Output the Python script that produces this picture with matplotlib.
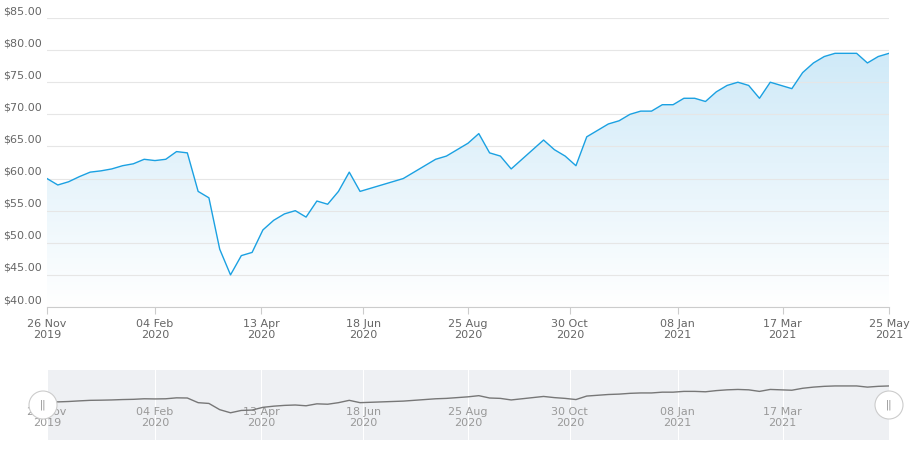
import numpy as np
import pandas as pd
import matplotlib.pyplot as plt
import matplotlib.dates as mdates
from matplotlib.patches import Polygon, Circle

# weekly closes, 26 Nov 2019 .. 25 May 2021
prices = [60.0, 59.0, 59.5, 60.3, 61.0, 61.2, 61.5, 62.0, 62.3, 63.0,
          62.8, 63.0, 64.2, 64.0, 58.0, 57.0, 49.0, 45.0, 48.0, 48.5,
          52.0, 53.5, 54.5, 55.0, 54.0, 56.5, 56.0, 58.0, 61.0, 58.0,
          58.5, 59.0, 59.5, 60.0, 61.0, 62.0, 63.0, 63.5, 64.5, 65.5,
          67.0, 64.0, 63.5, 61.5, 63.0, 64.5, 66.0, 64.5, 63.5, 62.0,
          66.5, 67.5, 68.5, 69.0, 70.0, 70.5, 70.5, 71.5, 71.5, 72.5,
          72.5, 72.0, 73.5, 74.5, 75.0, 74.5, 72.5, 75.0, 74.5, 74.0,
          76.5, 78.0, 79.0, 79.5, 79.5, 79.5, 78.0, 79.0, 79.5]
dates = pd.date_range('2019-11-26', periods=len(prices), freq='7D')
tick_dates = pd.to_datetime(['2019-11-26', '2020-02-04', '2020-04-13', '2020-06-18',
                             '2020-08-25', '2020-10-30', '2021-01-08', '2021-03-17',
                             '2021-05-25'])
tick_labels = [d.strftime('%d %b\n%Y') for d in tick_dates]
y_ticks = np.arange(40, 86, 5)

line_col = '#1ba1e2'
grey = '#666666'
x = mdates.date2num(dates)

fig = plt.figure(figsize=(9.13, 4.62), dpi=100)
W, H = 913, 462
ax = fig.add_axes([47 / W, 1 - 307 / H, 842 / W, 289 / H])

# gradient fill under the line
grad = np.linspace(0, 1, 256).reshape(-1, 1)
im = ax.imshow(grad, extent=[x[0], x[-1], 40, 85], aspect='auto', origin='lower',
               cmap=plt.matplotlib.colors.LinearSegmentedColormap.from_list(
                   'g', ['#ffffff', '#c9e7f7']), zorder=1)
poly = Polygon(np.column_stack([np.r_[x, x[-1], x[0]], np.r_[prices, 40, 40]]),
               transform=ax.transData, facecolor='none', edgecolor='none')
ax.add_patch(poly)
im.set_clip_path(poly)
ax.plot(x, prices, color=line_col, lw=1.0, zorder=3)

ax.set_xlim(x[0], x[-1])
ax.set_ylim(40, 85)
ax.set_yticks(y_ticks)
ax.set_yticklabels([])
for v in y_ticks:
    ax.text(-44 / 842, v + 0.3, f'${v:.2f}', transform=ax.get_yaxis_transform(),
            ha='left', va='bottom', color=grey, fontsize=8)
ax.set_xticks(mdates.date2num(tick_dates))
ax.set_xticklabels(tick_labels)
ax.grid(axis='y', color='#e6e6e6', lw=0.8)
for s in ['top', 'right', 'left']:
    ax.spines[s].set_visible(False)
ax.spines['bottom'].set_color('#cccccc')
ax.tick_params(axis='y', length=0)
ax.tick_params(axis='x', colors=grey, labelsize=8, length=5, color='#cccccc')

# navigator
nav = fig.add_axes([47 / W, 1 - 440 / H, 842 / W, 70 / H])
nav.set_facecolor('#eef0f3')
nav.plot(x, prices, color='#777777', lw=1)
nav.set_xlim(x[0], x[-1])
nav.set_ylim(10, 100)
nav.set_yticks([])
nav.set_xticks(mdates.date2num(tick_dates[:-1]))
nav.set_xticklabels(tick_labels[:-1])
nav.tick_params(axis='x', direction='in', pad=-24, length=0, colors='#999999', labelsize=8)
nav.grid(axis='x', color='#ffffff', lw=0.8)
for s in nav.spines.values():
    s.set_visible(False)
for hx in [43, 889]:
    fig.patches.append(Circle((hx / W * 9.13, (1 - 405 / H) * 4.62), 0.14,
                              transform=fig.dpi_scale_trans,
                              facecolor='white', edgecolor='#cccccc', lw=0.8,
                              zorder=5))
    fig.text(hx / W, 1 - 405 / H, '||', ha='center', va='center', color='#888888',
             fontsize=7, zorder=6)

fig.savefig('out.png', dpi=100)
